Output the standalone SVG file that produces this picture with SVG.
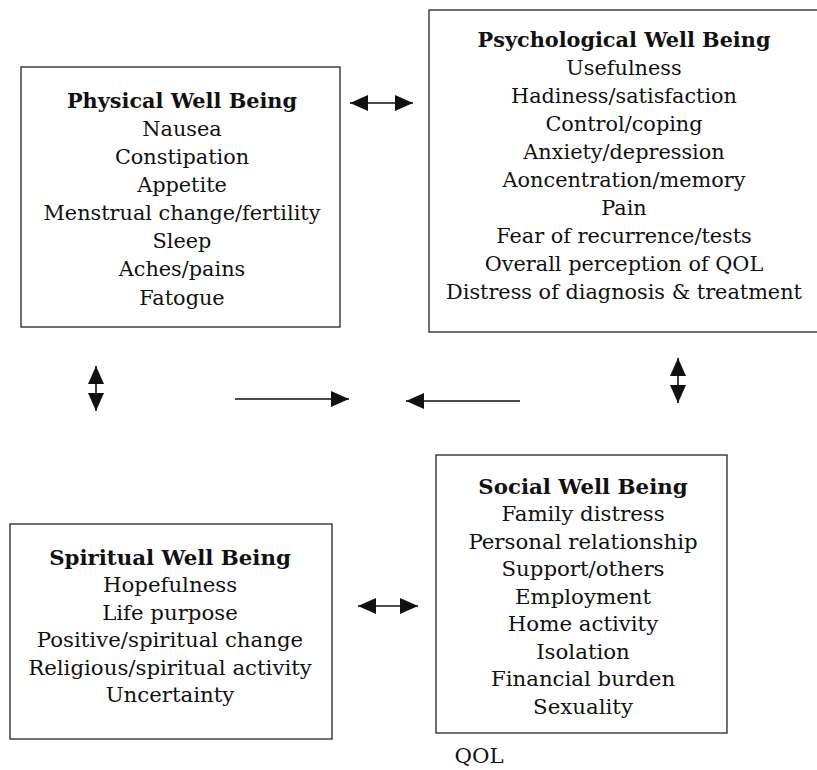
<svg xmlns="http://www.w3.org/2000/svg" width="817" height="770" viewBox="0 0 817 770">
<defs>
<style>
.box{fill:none;stroke:#222;stroke-width:1.3}
text{font-family:"DejaVu Serif","Liberation Serif",serif;font-size:20.8px;fill:#111;text-anchor:middle}
.b{font-size:21.3px}
.t{font-weight:bold}
.c{stroke:#111;stroke-width:1.6;fill:none}
</style>
<marker id="ah" markerUnits="userSpaceOnUse" markerWidth="20" markerHeight="18" refX="18" refY="8" orient="auto-start-reverse">
<path d="M0,0 L18,8 L0,16 z" fill="#111"/>
</marker>
</defs>
<rect width="817" height="770" fill="#fff"/>
<g id="physical">
<rect class="box" x="21" y="67" width="319" height="260"/>
<text class="t" x="182" y="108">Physical Well Being</text>
<text x="182" y="136">Nausea</text>
<text x="182" y="164">Constipation</text>
<text x="182" y="192">Appetite</text>
<text x="182" y="220">Menstrual change/fertility</text>
<text x="182" y="248">Sleep</text>
<text x="182" y="276">Aches/pains</text>
<text x="182" y="305">Fatogue</text>
</g>
<g id="psychological">
<rect class="box" x="429" y="10" width="392" height="322"/>
<text class="t" x="624" y="47">Psychological Well Being</text>
<text x="624" y="75">Usefulness</text>
<text x="624" y="103">Hadiness/satisfaction</text>
<text x="624" y="131">Control/coping</text>
<text x="624" y="159">Anxiety/depression</text>
<text x="624" y="187">Aoncentration/memory</text>
<text x="624" y="215">Pain</text>
<text x="624" y="243">Fear of recurrence/tests</text>
<text x="624" y="271">Overall perception of QOL</text>
<text x="624" y="299">Distress of diagnosis &amp; treatment</text>
</g>
<g id="spiritual">
<rect class="box" x="10" y="524" width="322" height="215"/>
<text class="t b" x="170" y="565">Spiritual Well Being</text>
<text class="b" x="170" y="592">Hopefulness</text>
<text class="b" x="170" y="620">Life purpose</text>
<text class="b" x="170" y="647">Positive/spiritual change</text>
<text class="b" x="170" y="675">Religious/spiritual activity</text>
<text class="b" x="170" y="702">Uncertainty</text>
</g>
<g id="social">
<rect class="box" x="436" y="455" width="291" height="278"/>
<text class="t b" x="583" y="494">Social Well Being</text>
<text class="b" x="583" y="521">Family distress</text>
<text class="b" x="583" y="549">Personal relationship</text>
<text class="b" x="583" y="576">Support/others</text>
<text class="b" x="583" y="604">Employment</text>
<text class="b" x="583" y="631">Home activity</text>
<text class="b" x="583" y="659">Isolation</text>
<text class="b" x="583" y="686">Financial burden</text>
<text class="b" x="583" y="714">Sexuality</text>
</g>
<g id="label-qol">
<text class="b" x="479" y="763">QOL</text>
</g>
<g id="connectors">
<path class="c" d="M350,103 L413,103" marker-start="url(#ah)" marker-end="url(#ah)"/>
<path class="c" d="M96,366 L96,411" marker-start="url(#ah)" marker-end="url(#ah)"/>
<path class="c" d="M678,358 L678,403" marker-start="url(#ah)" marker-end="url(#ah)"/>
<path class="c" d="M235,399 L349,399" marker-end="url(#ah)"/>
<path class="c" d="M520,401 L406,401" marker-end="url(#ah)"/>
<path class="c" d="M358,606 L418,606" marker-start="url(#ah)" marker-end="url(#ah)"/>
</g>
</svg>
